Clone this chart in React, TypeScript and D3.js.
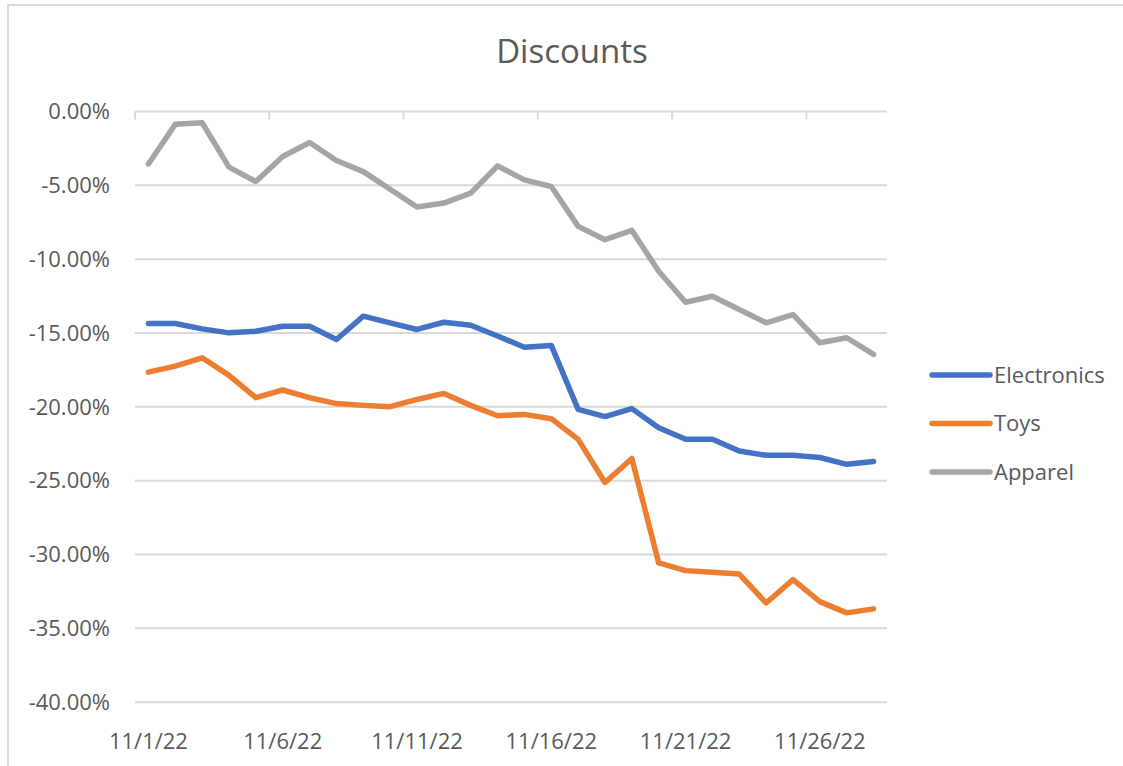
import React from "react";
import * as d3 from "d3";

const dates = Array.from({ length: 28 }, (_, i) => `11/${i + 1}/22`);
const tickLabels = ["11/1/22", "11/6/22", "11/11/22", "11/16/22", "11/21/22", "11/26/22"];
const yTicks = [0, -5, -10, -15, -20, -25, -30, -35, -40];

const electronics = [
  -14.36, -14.36, -14.72, -14.99, -14.88, -14.54, -14.54, -15.44, -13.86, -14.31,
  -14.76, -14.27, -14.47, -15.2, -15.96, -15.84, -20.17, -20.66, -20.12, -21.41,
  -22.2, -22.2, -22.99, -23.28, -23.28, -23.43, -23.89, -23.7,
];
const toys = [
  -17.65, -17.24, -16.68, -17.87, -19.38, -18.86, -19.38, -19.78, -19.9, -19.99,
  -19.5, -19.09, -19.9, -20.6, -20.51, -20.8, -22.2, -25.12, -23.5, -30.57,
  -31.09, -31.2, -31.32, -33.28, -31.7, -33.19, -33.95, -33.68,
];
const apparel = [
  -3.55, -0.87, -0.76, -3.77, -4.74, -3.05, -2.1, -3.32, -4.07, -5.26,
  -6.47, -6.2, -5.53, -3.68, -4.63, -5.08, -7.78, -8.68, -8.05, -10.82,
  -12.92, -12.51, -13.41, -14.31, -13.75, -15.66, -15.32, -16.45,
];

const seriesNames = ["Electronics", "Toys", "Apparel"];
const seriesColors = ["#4472C4", "#ED7D31", "#A5A5A5"];
const seriesData = [electronics, toys, apparel];

const FONT = "'Open Sans', sans-serif";
const TEXT = "#595959";
const GRID = "#d9d9d9";

export default function App() {
  const W = 1123;
  const H = 766;
  const x = d3.scaleBand<string>().domain(dates).range([135, 887]).paddingInner(0).paddingOuter(0);
  const y = d3.scaleLinear().domain([-40, 0]).range([702.2, 111.5]);
  const line = d3
    .line<number>()
    .x((_, i) => (x(dates[i]) as number) + x.bandwidth() / 2)
    .y((d) => y(d));

  const legendYs = [375, 423.5, 472];

  return (
    <svg
      width={W}
      height={H}
      style={{ position: "absolute", left: 0, top: 0, background: "#fff" }}
      fontFamily={FONT}
    >
      <rect x={8} y={5} width={W + 20} height={H + 20} fill="#fff" stroke={GRID} strokeWidth={2} />
      <text x={572} y={63} textAnchor="middle" fontSize={33} fill={TEXT}>
        Discounts
      </text>
      {yTicks.map((t) => (
        <g key={t}>
          <line x1={135} x2={887} y1={y(t)} y2={y(t)} stroke={GRID} strokeWidth={2} />
          <text x={110} y={y(t)} dy="0.35em" textAnchor="end" fontSize={22} fill={TEXT}>
            {`${t.toFixed(2)}%`}
          </text>
        </g>
      ))}
      {tickLabels.map((lab) => {
        const bx = x(lab) as number;
        return (
          <g key={lab}>
            <line x1={bx} x2={bx} y1={y(0)} y2={y(0) + 8} stroke={GRID} strokeWidth={2} />
            <text x={bx + x.bandwidth() / 2} y={749} textAnchor="middle" fontSize={22} fill={TEXT}>
              {lab}
            </text>
          </g>
        );
      })}
      {seriesData.map((s, k) => (
        <path
          key={seriesNames[k]}
          d={line(s) || ""}
          fill="none"
          stroke={seriesColors[k]}
          strokeWidth={5.5}
          strokeLinejoin="round"
          strokeLinecap="round"
        />
      ))}
      {seriesNames.map((n, k) => (
        <g key={n}>
          <line x1={932} x2={990} y1={legendYs[k]} y2={legendYs[k]} stroke={seriesColors[k]} strokeWidth={5.5} strokeLinecap="round" />
          <text x={994} y={legendYs[k]} dy="0.35em" fontSize={22} fill={TEXT}>
            {n}
          </text>
        </g>
      ))}
    </svg>
  );
}
